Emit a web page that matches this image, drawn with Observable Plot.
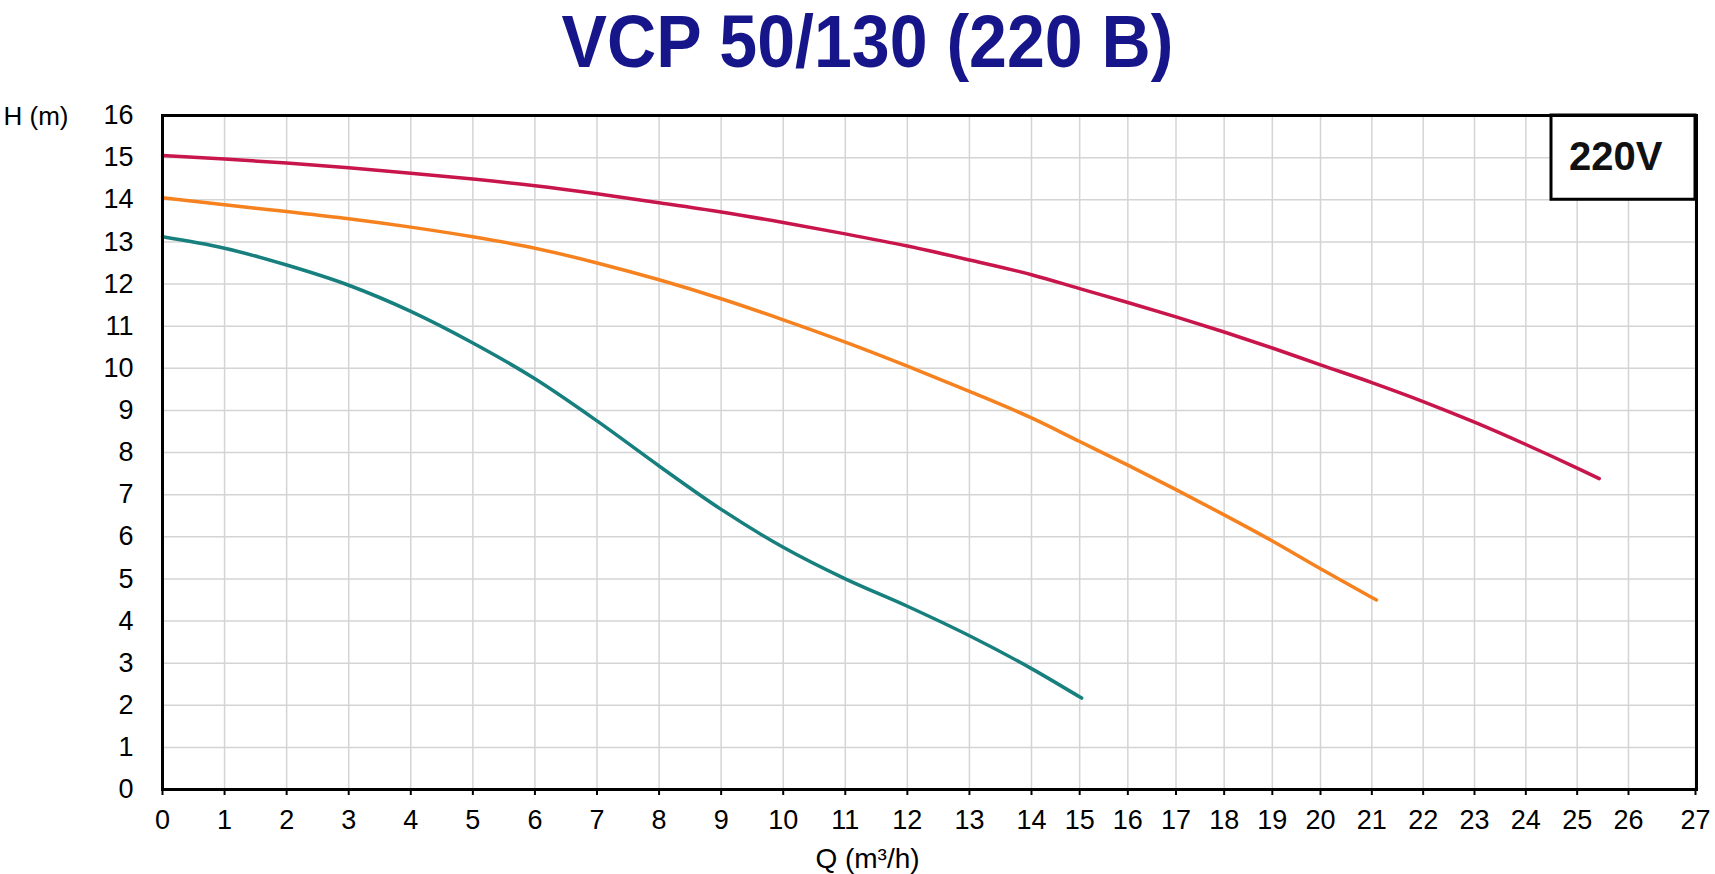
<!DOCTYPE html>
<html>
<head>
<meta charset="utf-8">
<script src="https://cdn.jsdelivr.net/npm/d3@7"></script>
<script src="https://cdn.jsdelivr.net/npm/@observablehq/plot@0.6"></script>
<style>
  html, body { margin: 0; padding: 0; background: #fff; }
  body { width: 1715px; height: 874px; overflow: hidden; font-family: "Liberation Sans", Arial, sans-serif; }
  #title { height: 90px; line-height: 83px; font-size: 74px; font-weight: bold; color: #16168a; text-align: center; white-space: nowrap; }
  #title span { display: inline-block; transform: translateX(10px) scaleX(0.92); }
</style>
</head>
<body>
<div id="title"><span id="titleText"></span></div>
<div id="chart"></div>
<script>
// ---- data ----
const titleText = "VCP 50/130 (220 B)";
const xAxisLabel = "Q (m³/h)";
const yAxisLabel = "H (m)";

// tick labels
const xTicks = d3.range(0, 28);   // 0 … 27
const yTicks = d3.range(0, 17);   // 0 … 16

// upper (red) curve
const qTop = [0, 1, 2, 3, 4, 5, 6, 7, 8, 9, 10, 11, 12, 13, 14, 15, 16, 17, 18, 19, 20, 21, 22, 23, 24, 25, 25.43];
const hTop = [15.05, 14.97, 14.87, 14.76, 14.63, 14.49, 14.33, 14.14, 13.93, 13.71, 13.46, 13.19, 12.9, 12.57, 12.22, 11.89, 11.56, 11.22, 10.86, 10.48, 10.08, 9.66, 9.21, 8.72, 8.19, 7.63, 7.38];

// middle (orange) curve
const qMid = [0, 1, 2, 3, 4, 5, 6, 7, 8, 9, 10, 11, 12, 13, 14, 15, 16, 17, 18, 19, 20, 21, 21.09];
const hMid = [14.05, 13.88, 13.72, 13.55, 13.35, 13.12, 12.85, 12.5, 12.1, 11.65, 11.15, 10.62, 10.05, 9.45, 8.82, 8.26, 7.7, 7.12, 6.52, 5.9, 5.24, 4.56, 4.5];

// lower (teal) curve
const qLow = [0, 1, 2, 3, 4, 5, 6, 7, 8, 9, 10, 11, 12, 13, 14, 15.04];
const hLow = [13.12, 12.85, 12.45, 11.97, 11.35, 10.6, 9.75, 8.75, 7.68, 6.65, 5.75, 5.0, 4.35, 3.65, 2.87, 2.17];

// voltage label box (in chart units)
const voltageBox = [{x1: 24.5, x2: 27, y1: 14, y2: 16, label: "220V"}];

document.getElementById("titleText").textContent = titleText;

// ---- chart ----
const W = 1715, H = 784;
const chart = Plot.plot({
  width: W,
  height: H,
  marginTop: 25,
  marginBottom: 85,
  marginLeft: 162,
  marginRight: 19,
  style: {fontFamily: "'Liberation Sans', Arial, sans-serif", fontSize: "27px", color: "#000", background: "#fff"},
  x: {type: "linear", domain: [0, 14, 20, 26, 27], range: [162, 1031, 1320, 1628, 1695]},
  y: {type: "linear", domain: [0, 16]},
  marks: [
    Plot.gridY({ticks: yTicks, stroke: "#d4d4d4", strokeOpacity: 1, strokeWidth: 1.5}),
    Plot.gridX({ticks: xTicks, stroke: "#d4d4d4", strokeOpacity: 1, strokeWidth: 1.5}),
    Plot.axisY({ticks: yTicks, tickSize: 0, tickPadding: 29, fontSize: 27, label: null}),
    Plot.axisX({ticks: xTicks, tickSize: 6, tickPadding: 14, fontSize: 27, label: null, strokeWidth: 2}),
    Plot.line(d3.zip(qLow, hLow), {stroke: "#17807e", strokeWidth: 3.5, curve: "monotone-x", strokeLinecap: "round"}),
    Plot.line(d3.zip(qMid, hMid), {stroke: "#f6821f", strokeWidth: 3.5, curve: "monotone-x", strokeLinecap: "round"}),
    Plot.line(d3.zip(qTop, hTop), {stroke: "#c8164c", strokeWidth: 3.5, curve: "monotone-x", strokeLinecap: "round"}),
    Plot.rect(voltageBox, {x1: "x1", x2: "x2", y1: "y1", y2: "y2", fill: "#fff", stroke: "#000", strokeWidth: 3}),
    Plot.text(voltageBox, {x: d => (d.x1 + d.x2) / 2, y: d => (d.y1 + d.y2) / 2, text: "label", fontWeight: "bold", fontSize: 40, fill: "#111"}),
    Plot.frame({stroke: "#000", strokeWidth: 3}),
    Plot.text([yAxisLabel], {text: d => d, frameAnchor: "top-left", dx: -159, dy: 1, textAnchor: "start", lineAnchor: "middle", fontSize: 26}),
    Plot.text([xAxisLabel], {text: d => d, frameAnchor: "bottom", dx: -62, dy: 70, lineAnchor: "middle", fontSize: 28})
  ]
});
document.getElementById("chart").appendChild(chart);
</script>
</body>
</html>
